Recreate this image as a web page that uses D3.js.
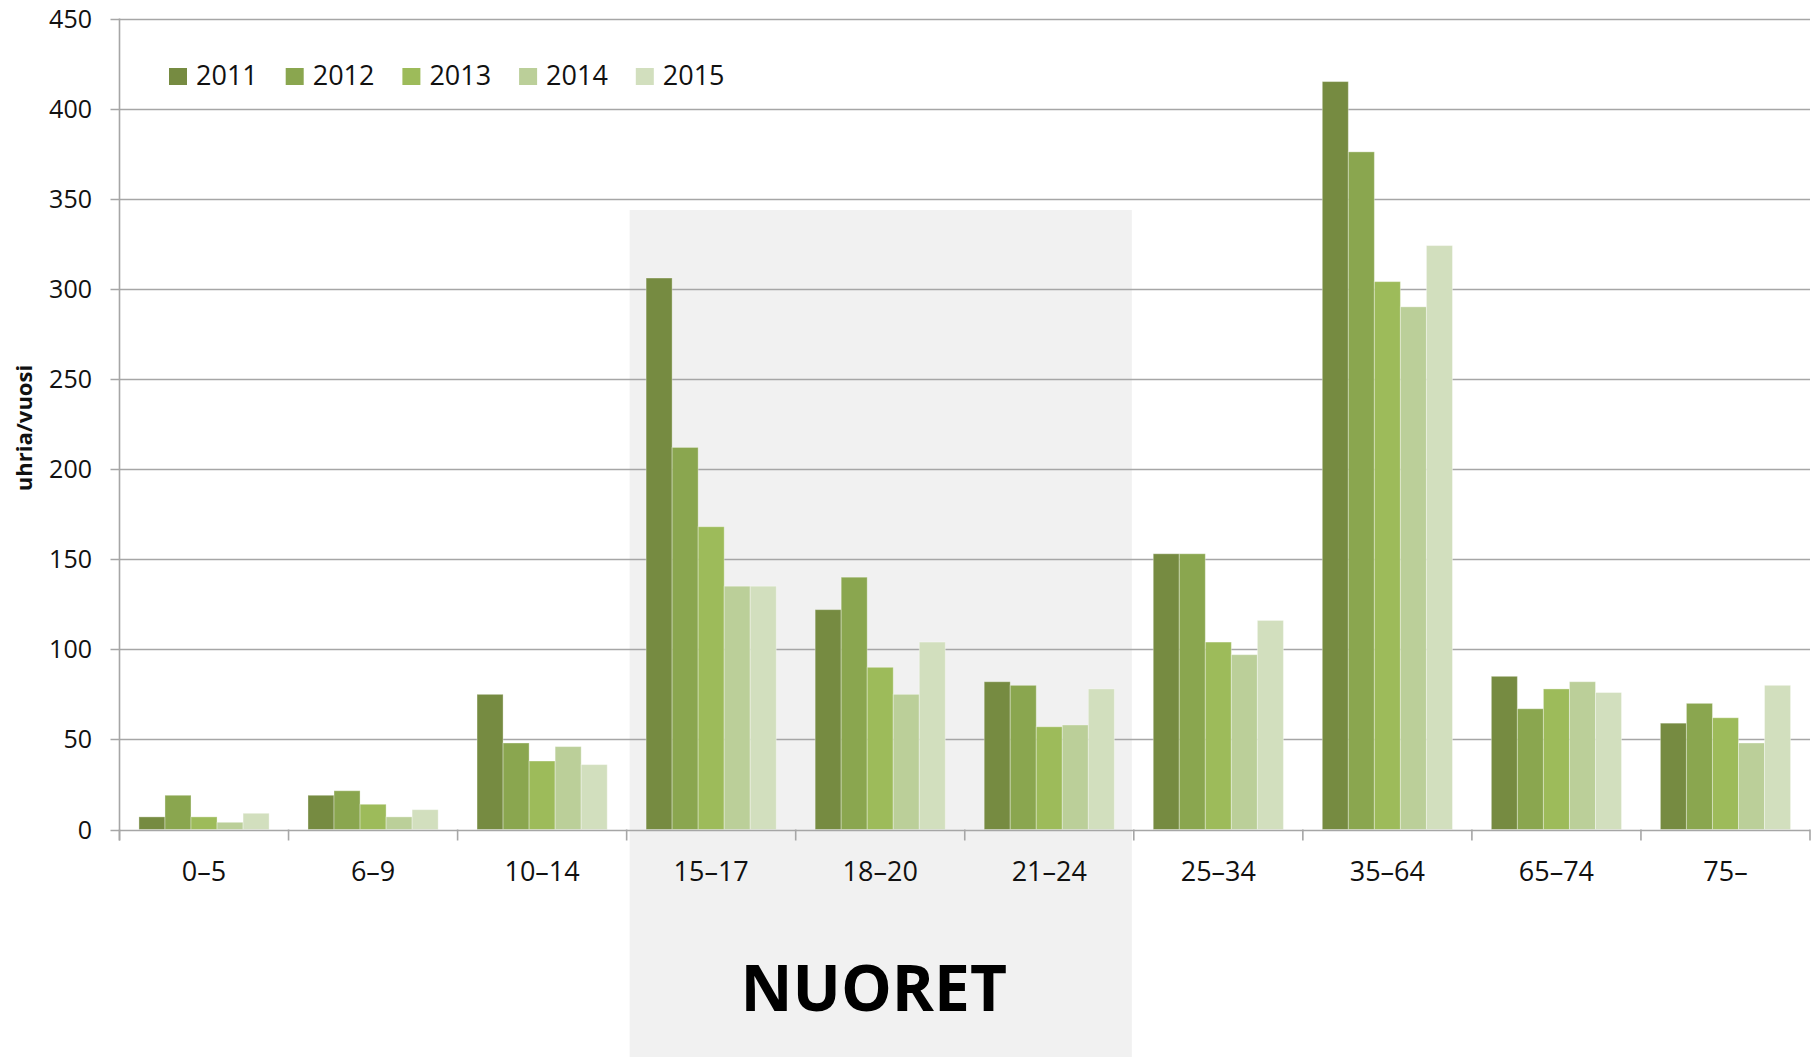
<!DOCTYPE html>
<html>
<head>
<meta charset="utf-8">
<script src="https://cdn.jsdelivr.net/npm/d3@7"></script>
<style>
  html, body { margin: 0; padding: 0; background: #fff; }
  svg { display: block; font-family: "Open Sans", "Noto Sans", sans-serif; }
</style>
</head>
<body>
<svg id="chart" width="1817" height="1057"></svg>
<script>
// ---- data ----
const categories = ["0–5", "6–9", "10–14", "15–17", "18–20", "21–24", "25–34", "35–64", "65–74", "75–"];
const years = ["2011", "2012", "2013", "2014", "2015"];
const values2011 = [7, 19, 75, 306, 122, 82, 153, 415, 85, 59];
const values2012 = [19, 21.5, 48, 212, 140, 80, 153, 376, 67, 70];
const values2013 = [7, 14, 38, 168, 90, 57, 104, 304, 78, 62];
const values2014 = [4, 7, 46, 135, 75, 58, 97, 290, 82, 48];
const values2015 = [9, 11, 36, 135, 104, 78, 116, 324, 76, 80];
const yTicks = [0, 50, 100, 150, 200, 250, 300, 350, 400, 450];
const highlightCats = ["15–17", "21–24"];
const highlightLabel = "NUORET";
const yTitle = "uhria/vuosi";

(function () {
const seriesValues = [values2011, values2012, values2013, values2014, values2015];
const colors = ["#768B41", "#8AA64F", "#9DBB5A", "#BBCF99", "#D2DFBE"];

// ---- layout ----
const svg = d3.select("#chart");
const mLeft = 119.5, mRight = 1810, mTop = 18.5, mBottom = 829.5;

const x = d3.scaleBand().domain(categories).range([mLeft, mRight]).paddingInner(0.23).paddingOuter(0.115);
const xs = d3.scaleBand().domain(years).range([0, x.bandwidth()]);
const y = d3.scaleLinear().domain([0, 450]).range([mBottom, mTop]);
const step = x.step();
const catStart = c => mLeft + categories.indexOf(c) * step;

// highlight band
const bandX0 = catStart(highlightCats[0]) + 3;
const bandX1 = catStart(highlightCats[1]) + step - 2;
svg.append("rect")
  .attr("x", bandX0).attr("y", 210)
  .attr("width", bandX1 - bandX0).attr("height", 1057 - 210)
  .attr("fill", "#F1F1F1");

// gridlines
svg.append("g").selectAll("line").data(yTicks.filter(d => d > 0)).join("line")
  .attr("x1", mLeft - 9).attr("x2", mRight)
  .attr("y1", d => Math.round(y(d)) + 0.5).attr("y2", d => Math.round(y(d)) + 0.5)
  .attr("stroke", "#A6A6A6").attr("stroke-width", 1.6);

// y tick labels
svg.append("g").selectAll("text").data(yTicks).join("text")
  .attr("x", 92).attr("y", d => y(d))
  .attr("dy", "0.36em")
  .attr("text-anchor", "end")
  .attr("font-size", 25).attr("fill", "#111")
  .text(d => d);

// bars
const groups = svg.append("g").selectAll("g").data(categories).join("g")
  .attr("transform", d => `translate(${x(d)},0)`);
groups.selectAll("rect").data((c, i) => years.map((yr, k) => ({ yr, v: seriesValues[k][i], k }))).join("rect")
  .attr("x", d => xs(d.yr))
  .attr("y", d => y(d.v))
  .attr("width", xs.bandwidth())
  .attr("height", d => mBottom - y(d.v))
  .attr("fill", d => colors[d.k])
  .attr("stroke", "rgba(255,255,255,0.35)")
  .attr("stroke-width", 1);

// axes lines
svg.append("line").attr("x1", mLeft).attr("x2", mLeft).attr("y1", mTop).attr("y2", mBottom + 11)
  .attr("stroke", "#A6A6A6").attr("stroke-width", 1.6);
svg.append("line").attr("x1", mLeft - 9).attr("x2", mRight).attr("y1", Math.round(mBottom) + 0.5).attr("y2", Math.round(mBottom) + 0.5)
  .attr("stroke", "#A6A6A6").attr("stroke-width", 1.6);
// category boundary ticks
svg.append("g").selectAll("line").data(d3.range(categories.length + 1)).join("line")
  .attr("x1", i => mLeft + i * step).attr("x2", i => mLeft + i * step)
  .attr("y1", mBottom).attr("y2", mBottom + 11)
  .attr("stroke", "#A6A6A6").attr("stroke-width", 1.6);

// x labels
svg.append("g").selectAll("text").data(categories).join("text")
  .attr("x", d => x(d) + x.bandwidth() / 2)
  .attr("y", 881)
  .attr("text-anchor", "middle")
  .attr("font-size", 27).attr("fill", "#111")
  .text(d => d);

// y title
svg.append("text")
  .attr("transform", "translate(32,428) rotate(-90)")
  .attr("text-anchor", "middle")
  .attr("font-size", 22).attr("font-weight", "bold").attr("fill", "#111")
  .text(yTitle);

// legend
const legend = svg.append("g").selectAll("g").data(years).join("g")
  .attr("transform", (d, i) => `translate(${169 + i * 116.7},68)`);
legend.append("rect").attr("width", 18).attr("height", 17)
  .attr("fill", (d, i) => colors[i]);
legend.append("text").attr("x", 27).attr("y", 17)
  .attr("font-size", 27).attr("fill", "#111")
  .text(d => d);

// highlight label
svg.append("text")
  .attr("x", (bandX0 + bandX1) / 2 - 7).attr("y", 1011)
  .attr("text-anchor", "middle")
  .attr("font-size", 64).attr("font-weight", "bold").attr("fill", "#000")
  .text(highlightLabel);
})();
</script>
</body>
</html>
